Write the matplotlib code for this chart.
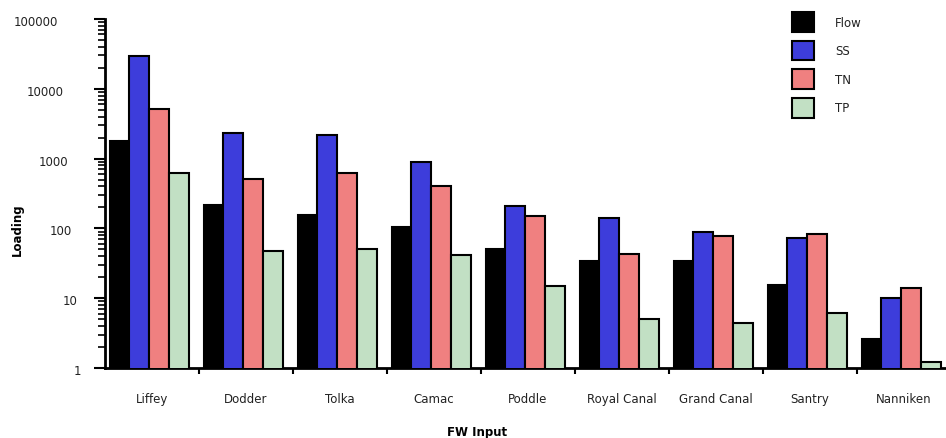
import numpy as np
import matplotlib
matplotlib.use("Agg")
import matplotlib.pyplot as plt
import matplotlib.transforms as mtransforms
from matplotlib.ticker import LogLocator, FixedLocator, NullFormatter

sites = ["Liffey", "Dodder", "Tolka", "Camac", "Poddle", "Royal Canal",
         "Grand Canal", "Santry", "Nanniken"]
flow = [1780, 215, 155, 105, 50, 34, 34, 15.4, 2.6]
ss = [29500, 2330, 2180, 890, 210, 141, 89, 73, 10]
tn = [5100, 510, 620, 405, 150, 43, 78, 83, 14]
tp = [620, 47, 50, 41.5, 15, 5.0, 4.4, 6.1, 1.2]

decades = [1, 10, 100, 1000, 10000, 100000]
decade_labels = ["1", "10", "100", "1000", "10000", "100000"]
# right edge of each y label in pixels (the labels are not aligned in the original)
label_right_px = [81, 78, 72, 68, 64, 58]

series = [("Flow", flow, "#000000"), ("SS", ss, "#3d3ddb"),
          ("TN", tn, "#f08080"), ("TP", tp, "#c2e0c4")]

fig = plt.figure(figsize=(9.46, 4.39), dpi=100)
ax = fig.add_axes([105 / 946, 1 - 369 / 439, 846 / 946, 349 / 439])

x = np.arange(len(sites))
w = 0.21
for k, (name, vals, col) in enumerate(series):
    ax.bar(x + 0.05 + k * w, vals, width=w, align="edge", color=col,
           edgecolor="black", linewidth=1.5, label=name, zorder=3)

ax.set_yscale("log")
ax.set_ylim(1, 100000)
ax.set_xlim(0, len(sites))
ax.set_yticks(decades)
ax.set_yticklabels([])
ax.yaxis.set_minor_locator(LogLocator(base=10, subs=np.arange(2, 10), numticks=10))
ax.yaxis.set_minor_formatter(NullFormatter())

# y labels drawn by hand, a little below each tick
trans = ax.get_yaxis_transform() + mtransforms.ScaledTranslation(0, -2.5 / 100, fig.dpi_scale_trans)
for val, lab, rpx in zip(decades, decade_labels, label_right_px):
    ax.text((rpx - 105) / 846, val, lab, transform=trans, ha="right",
            va="center", fontsize=8.5, color="#222222", clip_on=False)

ax.xaxis.set_major_locator(FixedLocator(x + 0.5))
ax.set_xticklabels(sites)
ax.xaxis.set_minor_locator(FixedLocator(np.arange(1, len(sites))))
ax.tick_params(axis="x", which="major", length=0, pad=17, labelsize=8.5, colors="#222222")
ax.tick_params(axis="x", which="minor", length=4, width=1.5, direction="out")
ax.tick_params(axis="y", which="major", length=8, width=1.5, direction="out")
ax.tick_params(axis="y", which="minor", length=5, width=1.2, direction="out")

for s in ["top", "right"]:
    ax.spines[s].set_visible(False)
for s in ["left", "bottom"]:
    ax.spines[s].set_linewidth(2)

ax.set_ylabel("Loading", fontsize=8.5, fontweight="bold")
ax.yaxis.set_label_coords(-0.096, 0.40)
ax.set_xlabel("FW Input", fontsize=8.5, fontweight="bold")
ax.xaxis.set_label_coords(0.44, -0.163)

ax.legend(loc="upper left", bbox_to_anchor=(792 / 946, 1 - 13 / 439),
          bbox_transform=fig.transFigure, frameon=False, fontsize=8.5,
          handlelength=1.85, handleheight=2.2, labelspacing=0.75, handletextpad=1.8,
          borderpad=0, borderaxespad=0, labelcolor="#222222")

fig.savefig("out.png", dpi=100)
